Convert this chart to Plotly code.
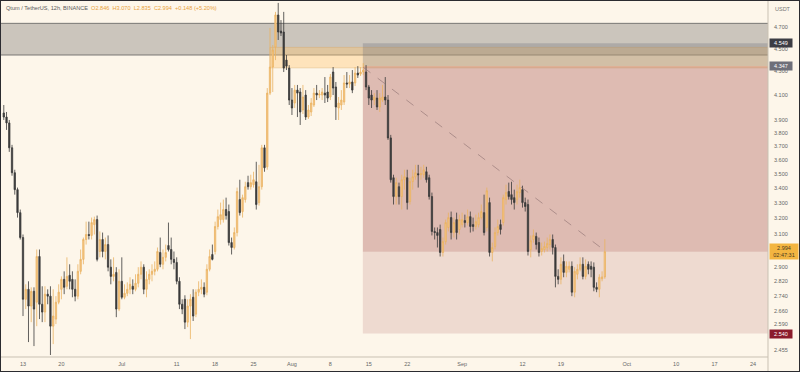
import math
import pandas as pd
import plotly.graph_objects as go

# ---------------- data (QTUM/USDT 12h candles) ----------------
start_time = "2022-06-09 12:00"

opens = [
    3.955, 3.923, 3.877, 3.688, 3.508, 3.391, 3.238, 3.080, 2.721, 2.776,
    2.684, 2.765, 2.705, 2.965, 2.694, 2.652, 2.749, 2.738, 2.578, 2.615,
    2.705, 2.776, 2.832, 2.793, 2.855, 2.832, 2.776, 2.738, 2.878, 2.948,
    3.068, 3.099, 3.093, 3.161, 3.193, 2.995, 3.068, 2.995, 3.037, 2.902,
    2.849, 2.872, 2.668, 2.821, 2.732, 2.754, 2.776, 2.793, 2.776, 2.810,
    2.861, 2.902, 2.776, 2.832, 2.861, 2.878, 2.890, 2.989, 2.919, 2.960,
    3.031, 3.007, 2.948, 2.930, 2.821, 2.694, 2.721, 2.599, 2.684, 2.732,
    2.641, 2.760, 2.776, 2.787, 2.760, 2.890, 2.977, 2.995, 3.149, 3.193,
    3.193, 3.258, 3.245, 3.049, 3.019, 3.111, 3.324, 3.245, 3.324, 3.439,
    3.411, 3.425, 3.445, 3.304, 3.411, 3.688, 3.550, 4.116, 4.337, 4.515,
    4.815, 4.662, 4.653, 4.398, 4.328, 4.059, 4.035, 4.141, 4.125, 3.979,
    4.100, 3.923, 3.963, 4.019, 4.116, 4.100, 4.100, 4.116, 4.125, 4.084,
    4.294, 4.167, 3.995, 4.019, 4.043, 4.201, 4.192, 4.209, 4.201, 4.285,
    4.277, 4.294, 4.294, 4.167, 4.100, 4.059, 4.075, 4.003, 4.059, 4.084,
    4.059, 3.762, 3.473, 3.344, 3.411, 3.344, 3.459, 3.473, 3.311, 3.446,
    3.480, 3.501, 3.494, 3.494, 3.515, 3.473, 3.344, 3.118,
    3.111, 3.130, 2.989, 3.055, 3.143, 3.206, 3.111, 3.193, 3.130, 3.161, 3.187,
    3.174, 3.212, 3.161, 3.149, 3.161, 3.206, 3.238, 3.143, 3.304, 2.989,
    3.025, 3.111, 3.161, 3.174, 3.324, 3.378, 3.357, 3.337, 3.324,
    3.371, 3.391, 3.304, 3.291, 3.007, 3.068, 3.087, 3.049, 2.995, 3.007,
    3.019, 3.037, 3.068, 3.019, 2.849, 2.832, 2.936, 2.872, 2.890, 2.907,
    2.760, 2.861, 2.890, 2.919, 2.849, 2.919, 2.907, 2.902, 2.787, 2.776, 2.835, 2.846,
]
highs = [
    4.019, 3.963, 3.900, 3.710, 3.529, 3.405, 3.258, 3.099, 2.804, 2.821,
    2.787, 2.787, 3.007, 3.007, 2.793, 2.793, 2.776, 2.793, 2.776, 2.738,
    2.804, 2.849, 2.878, 2.960, 2.919, 2.878, 2.832, 2.919, 3.007, 3.080,
    3.180, 3.180, 3.206, 3.212, 3.219, 3.118, 3.111, 3.080, 3.093, 2.948,
    2.960, 2.902, 2.890, 2.960, 2.804, 2.815, 2.844, 2.832, 2.861, 2.902,
    2.936, 2.919, 2.878, 2.890, 2.919, 2.936, 3.019, 3.080, 3.007, 3.037,
    3.174, 3.080, 2.995, 2.960, 2.844, 2.721, 2.743, 2.721, 2.749, 2.776,
    2.776, 2.821, 2.832, 2.815, 2.919, 3.007, 3.037, 3.180, 3.258, 3.304,
    3.324, 3.337, 3.291, 3.080, 3.143, 3.405, 3.459, 3.357, 3.445, 3.487,
    3.494, 3.515, 3.586, 3.564, 3.710, 3.710, 4.158, 4.691, 4.533, 4.845,
    4.933, 4.766, 4.845, 4.443, 4.354, 4.158, 4.184, 4.184, 4.158, 4.184,
    4.141, 4.019, 4.075, 4.158, 4.184, 4.141, 4.158, 4.251, 4.184, 4.277,
    4.337, 4.209, 4.084, 4.141, 4.268, 4.294, 4.268, 4.311, 4.337, 4.345,
    4.337, 4.371, 4.354, 4.184, 4.141, 4.116, 4.141, 4.116, 4.184, 4.251,
    4.100, 3.785, 3.494, 3.473, 3.439, 3.494, 3.529, 3.529, 3.473, 3.529,
    3.564, 3.564, 3.550, 3.564, 3.550, 3.494, 3.371, 3.143,
    3.143, 3.161, 3.080, 3.193, 3.238, 3.245, 3.206, 3.238, 3.225, 3.238, 3.225,
    3.258, 3.245, 3.206, 3.225, 3.238, 3.291, 3.357, 3.405, 3.337, 3.049,
    3.143, 3.193, 3.193, 3.357, 3.425, 3.439, 3.445, 3.391, 3.425,
    3.459, 3.418, 3.337, 3.324, 3.093, 3.130, 3.111, 3.080, 3.049, 3.055,
    3.080, 3.099, 3.099, 3.037, 2.890, 2.960, 2.977, 2.936, 2.936, 2.936,
    2.902, 2.919, 2.960, 2.960, 2.948, 2.936, 2.936, 2.930, 2.815, 2.861, 2.878, 3.070,
]
lows = [
    3.900, 3.823, 3.658, 3.487, 3.357, 3.206, 3.068, 2.631, 2.668, 2.497,
    2.599, 2.477, 2.578, 2.615, 2.599, 2.599, 2.694, 2.433, 2.487, 2.589,
    2.694, 2.721, 2.749, 2.776, 2.776, 2.732, 2.710, 2.721, 2.861, 2.919,
    3.037, 3.068, 3.068, 3.099, 2.936, 2.960, 2.960, 2.948, 2.878, 2.804,
    2.821, 2.625, 2.657, 2.721, 2.721, 2.738, 2.749, 2.749, 2.765, 2.787,
    2.832, 2.749, 2.732, 2.804, 2.821, 2.855, 2.878, 2.902, 2.890, 2.936,
    2.995, 2.919, 2.890, 2.804, 2.668, 2.641, 2.563, 2.573, 2.512, 2.605,
    2.625, 2.738, 2.749, 2.732, 2.743, 2.878, 2.942, 2.977, 3.130, 3.161,
    3.174, 3.193, 3.031, 2.977, 3.007, 3.087, 3.219, 3.206, 3.304, 3.391,
    3.391, 3.405, 3.258, 3.284, 3.391, 3.515, 3.529, 4.100, 4.125, 4.398,
    4.579, 4.616, 4.294, 4.311, 4.019, 3.939, 3.995, 3.923, 3.861, 3.947,
    3.900, 3.908, 3.931, 4.003, 4.059, 4.075, 4.059, 4.035, 4.043, 4.059,
    4.100, 3.900, 3.900, 3.979, 4.019, 4.158, 4.158, 4.116, 4.175, 4.243,
    4.260, 4.268, 4.141, 4.019, 3.995, 4.019, 3.979, 3.963, 4.043, 4.019,
    3.747, 3.439, 3.291, 3.291, 3.291, 3.258, 3.391, 3.258, 3.291, 3.391,
    3.459, 3.405, 3.459, 3.473, 3.439, 3.324, 3.093, 3.068,
    3.019, 2.965, 2.965, 3.037, 3.118, 3.068, 3.080, 3.068, 3.099, 3.143, 3.143,
    3.155, 3.111, 3.118, 3.130, 3.143, 3.193, 3.093, 3.118, 2.965, 2.936,
    3.007, 3.093, 3.099, 3.155, 3.291, 3.324, 3.291, 3.258, 3.291,
    3.337, 3.271, 3.245, 2.971, 2.960, 3.049, 3.007, 2.965, 2.971, 2.989,
    2.995, 3.007, 2.977, 2.787, 2.804, 2.804, 2.844, 2.844, 2.872, 2.738,
    2.732, 2.832, 2.878, 2.832, 2.832, 2.861, 2.844, 2.765, 2.760, 2.732, 2.821, 2.835,
]
closes = [
    3.923, 3.877, 3.688, 3.508, 3.391, 3.238, 3.080, 2.721, 2.776, 2.684,
    2.765, 2.668, 2.965, 2.694, 2.652, 2.749, 2.738, 2.578, 2.631, 2.705,
    2.760, 2.832, 2.787, 2.849, 2.821, 2.776, 2.738, 2.878, 2.948, 3.068,
    3.099, 3.093, 3.174, 3.193, 2.948, 3.068, 2.995, 3.037, 2.902, 2.849,
    2.861, 2.668, 2.821, 2.732, 2.754, 2.776, 2.804, 2.776, 2.810, 2.861,
    2.902, 2.776, 2.832, 2.861, 2.878, 2.890, 2.995, 2.919, 2.960, 2.989,
    3.007, 2.948, 2.930, 2.821, 2.694, 2.668, 2.599, 2.684, 2.721, 2.631,
    2.760, 2.776, 2.787, 2.749, 2.890, 2.965, 2.948, 3.149, 3.212, 3.225,
    3.258, 3.219, 3.049, 3.019, 3.111, 3.378, 3.238, 3.337, 3.411, 3.411,
    3.439, 3.459, 3.291, 3.411, 3.688, 3.543, 4.116, 4.337, 4.487, 4.815,
    4.653, 4.644, 4.328, 4.345, 4.059, 3.995, 4.141, 4.116, 3.963, 4.084,
    3.923, 3.979, 4.035, 4.116, 4.100, 4.108, 4.125, 4.100, 4.075, 4.251,
    4.158, 4.003, 4.035, 4.059, 4.201, 4.192, 4.209, 4.141, 4.285, 4.268,
    4.294, 4.311, 4.167, 4.075, 4.059, 4.084, 4.003, 4.075, 4.084, 4.059,
    3.762, 3.459, 3.344, 3.439, 3.344, 3.459, 3.480, 3.304, 3.446, 3.480,
    3.508, 3.494, 3.501, 3.529, 3.459, 3.344, 3.118, 3.111,
    3.093, 2.989, 3.055, 3.174, 3.206, 3.111, 3.174, 3.111, 3.193, 3.193, 3.174,
    3.212, 3.149, 3.149, 3.180, 3.206, 3.245, 3.111, 3.384, 2.989, 3.019,
    3.111, 3.149, 3.130, 3.337, 3.371, 3.344, 3.324, 3.304, 3.378,
    3.405, 3.304, 3.278, 2.995, 3.061, 3.093, 3.037, 2.989, 3.013, 3.025,
    3.043, 3.068, 3.019, 2.849, 2.832, 2.919, 2.872, 2.907, 2.907, 2.760,
    2.878, 2.890, 2.919, 2.849, 2.907, 2.890, 2.890, 2.787, 2.776, 2.844, 2.846, 2.994,
]

times = pd.date_range(start_time, periods=len(closes), freq="12h")

# x-axis tick labels
date_ticks = ["2022-06-13", "2022-06-20", "2022-07-01", "2022-07-11", "2022-07-18",
              "2022-07-25", "2022-08-01", "2022-08-08", "2022-08-15", "2022-08-22",
              "2022-09-01", "2022-09-12", "2022-09-19", "2022-10-01", "2022-10-10",
              "2022-10-17", "2022-10-24"]
date_labels = ["13", "20", "Jul", "11", "18", "25", "Aug", "8", "15", "22",
               "Sep", "12", "19", "Oct", "10", "17", "24"]

# y-axis tick labels
price_ticks = [4.700, 4.500, 4.300, 4.100, 3.900, 3.800, 3.700, 3.600, 3.500, 3.400,
               3.300, 3.200, 3.100, 2.900, 2.820, 2.740, 2.660, 2.590, 2.455]
price_labels = [f"{v:.3f}" for v in price_ticks]

# drawing zones
supply_top, supply_bottom = 4.735, 4.443
supply_start = "2022-06-01"
zone2_top, zone2_bottom = 4.512, 4.330
zone2_start = "2022-07-28 00:00"
entry_price, stop_price, target_price = 4.347, 4.549, 2.540
current_price = 2.994
position_start = "2022-08-13 22:00"
position_end = "2022-12-31"
trend_times = ["2022-08-14 00:00", "2022-09-27 00:00"]
trend_prices = [4.335, 3.000]

header_symbol = "Qtum / TetherUS, 12h, BINANCE"
header_ohlc = "O2.846  H3.070  L2.835  C2.994  +0.148 (+5.20%)"
countdown = "02:47:31"

# ---------------- figure ----------------
BG = "#fdf6ea"
W, H = 800, 372
ML, MR, MT, MB = 0, 32, 0, 15
PW = W - ML - MR
PH = H - MT - MB

fig = go.Figure()

fig.add_trace(go.Candlestick(
    x=times, open=opens, high=highs, low=lows, close=closes,
    increasing=dict(line=dict(color="#eab262", width=0.8), fillcolor="#f7c786"),
    decreasing=dict(line=dict(color="#3a3a3a", width=0.8), fillcolor="#3a3a3a"),
    whiskerwidth=0, showlegend=False, hoverinfo="skip",
))

fig.add_trace(go.Scatter(
    x=trend_times, y=trend_prices, mode="lines",
    line=dict(color="rgba(140,110,110,0.75)", width=0.8, dash="dash"),
    showlegend=False, hoverinfo="skip",
))

shapes = [
    # gray supply box
    dict(type="rect", xref="x", yref="y", x0=supply_start, x1=position_end,
         y0=supply_bottom, y1=supply_top, fillcolor="rgba(120,117,113,0.38)",
         line=dict(color="rgba(85,85,85,0.75)", width=1), layer="below"),
    # orange box
    dict(type="rect", xref="x", yref="y", x0=zone2_start, x1=position_end,
         y0=zone2_bottom, y1=zone2_top, fillcolor="rgba(255,196,110,0.38)",
         line=dict(color="rgba(215,165,95,0.6)", width=0.6), layer="below"),
    # short position: stop zone
    dict(type="rect", xref="x", yref="y", x0=position_start, x1=position_end,
         y0=entry_price, y1=stop_price, fillcolor="rgba(110,110,118,0.30)",
         line=dict(width=0), layer="below"),
    # profit zone (entry -> current)
    dict(type="rect", xref="x", yref="y", x0=position_start, x1=position_end,
         y0=current_price, y1=entry_price, fillcolor="rgba(175,100,95,0.40)",
         line=dict(width=0), layer="below"),
    # profit zone (current -> target)
    dict(type="rect", xref="x", yref="y", x0=position_start, x1=position_end,
         y0=target_price, y1=current_price, fillcolor="rgba(175,100,95,0.19)",
         line=dict(width=0), layer="below"),
    # separators
    dict(type="line", xref="paper", yref="paper", x0=1, x1=1, y0=-MB / PH, y1=1,
         line=dict(color="#c9c1b3", width=1)),
    dict(type="line", xref="paper", yref="paper", x0=0, x1=1, y0=0, y1=0,
         line=dict(color="#c9c1b3", width=1)),
    # outer frame
    dict(type="rect", xref="paper", yref="paper", x0=0, x1=W / PW, y0=-MB / PH, y1=1,
         line=dict(color="#2b2b30", width=2), fillcolor="rgba(0,0,0,0)"),
]

FONT_FAMILY = "Arial, Liberation Sans, sans-serif"


def price_box(price, text, bg, fg, width=20):
    return dict(xref="paper", yref="y", x=1, y=math.log10(price), xanchor="left",
                yanchor="middle", xshift=0.5, text=text, showarrow=False,
                bgcolor=bg, font=dict(color=fg, family=FONT_FAMILY, size=5.5),
                borderpad=1, width=width, align="center")


annotations = [
    dict(xref="paper", yref="paper", x=0.005, y=1, xanchor="left", yanchor="top",
         yshift=-3, showarrow=False, align="left",
         text=f"<span style='color:#5a5a5a'>{header_symbol}</span>  "
              f"<span style='color:#e9a23b'>{header_ohlc}</span>",
         font=dict(family=FONT_FAMILY, size=5.6)),
    dict(xref="paper", yref="paper", x=1, y=1, xanchor="left", yanchor="top",
         xshift=5, yshift=-4, showarrow=False, text="USDT",
         font=dict(family=FONT_FAMILY, size=5.5, color="#777")),
    price_box(stop_price, f"{stop_price:.3f}", "#3c3d44", "#ffffff"),
    price_box(entry_price, f"{entry_price:.3f}", "#6e6f79", "#ffffff"),
    price_box(current_price, f"{current_price:.3f}<br>{countdown}", "#f3b540", "#4a3a20", width=26),
    price_box(target_price, f"{target_price:.3f}", "#8b1c2c", "#ffffff"),
]

ylo = 2.4233
yhi = 4.962

fig.update_layout(
    width=W, height=H,
    margin=dict(l=ML, r=MR, t=MT, b=MB, pad=0),
    paper_bgcolor=BG, plot_bgcolor=BG,
    shapes=shapes, annotations=annotations,
    showlegend=False,
    xaxis=dict(
        type="date", range=["2022-06-08 19:26", "2022-10-26 17:30"],
        rangeslider=dict(visible=False), showgrid=False, zeroline=False,
        showline=False, ticks="", tickmode="array", tickvals=date_ticks,
        ticktext=date_labels, ticklabelstandoff=2,
        tickfont=dict(family=FONT_FAMILY, size=5.5, color="#666"),
        fixedrange=True,
    ),
    yaxis=dict(
        type="log", side="right", range=[math.log10(ylo), math.log10(yhi)],
        showgrid=False, zeroline=False, showline=False, ticks="",
        tickmode="array", tickvals=price_ticks, ticktext=price_labels,
        ticklabelstandoff=5,
        tickfont=dict(family=FONT_FAMILY, size=5.5, color="#666"),
        fixedrange=True,
    ),
)

fig.write_html("out.html")
